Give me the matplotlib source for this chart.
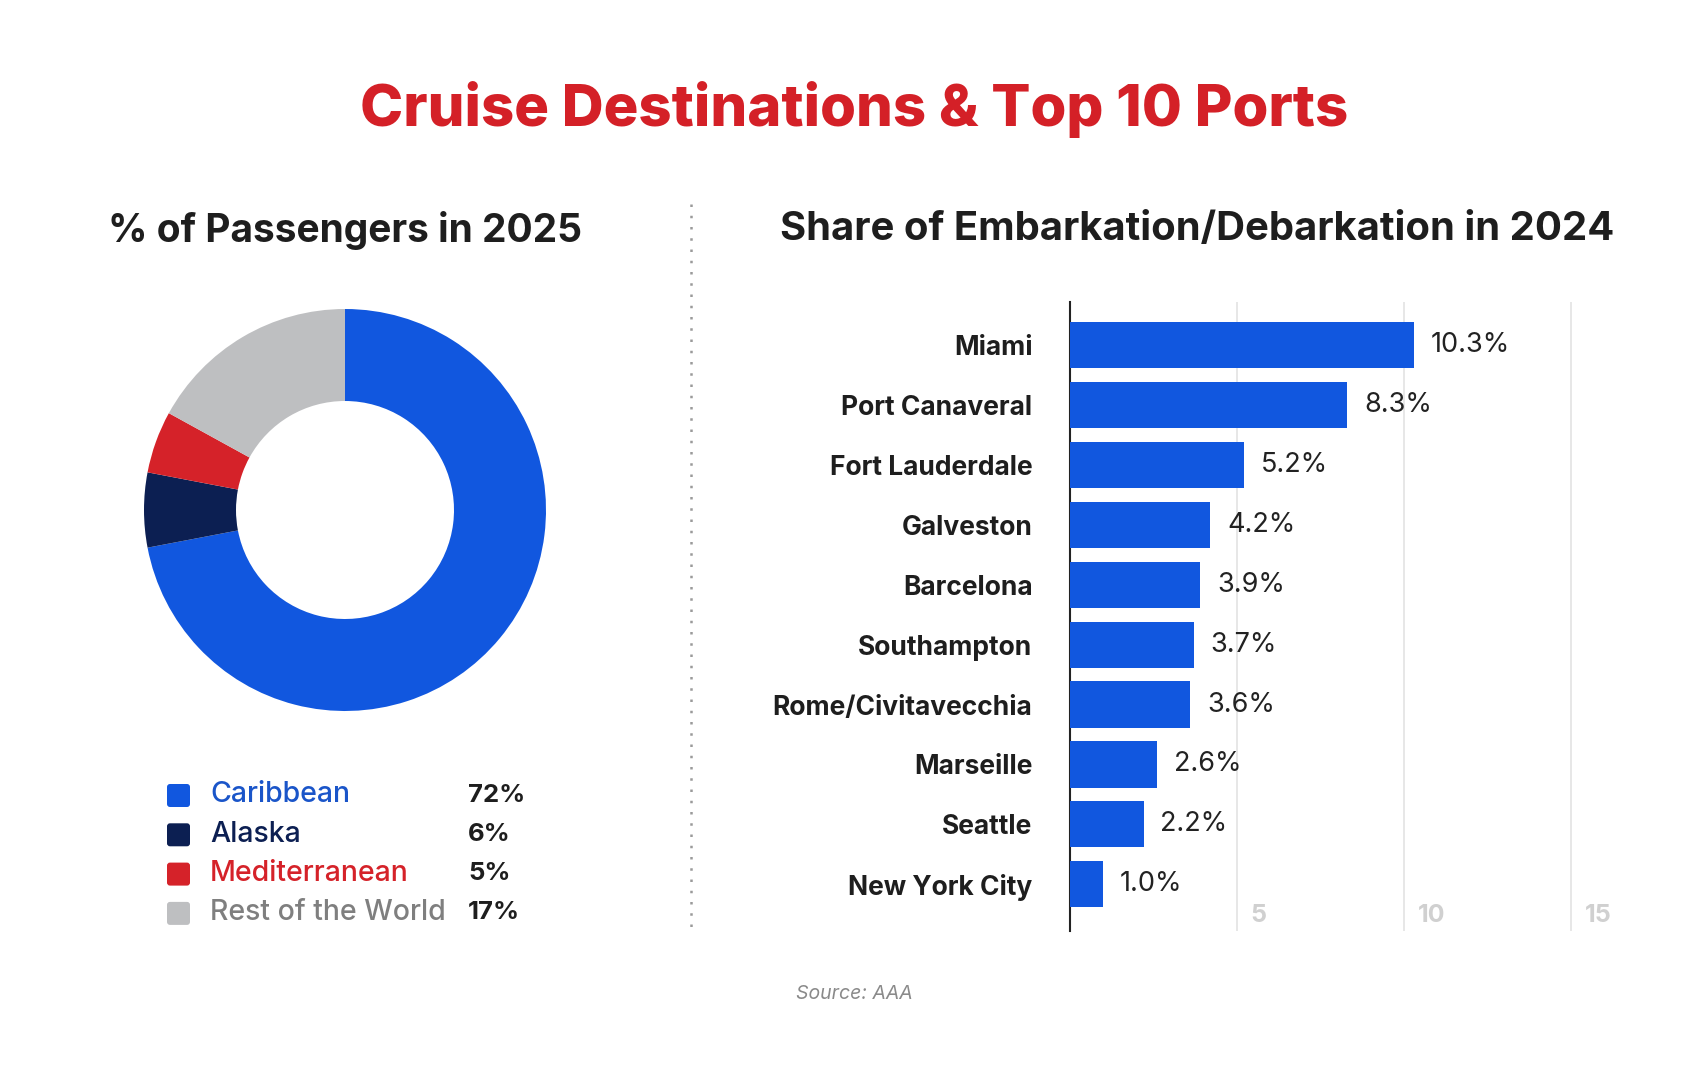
import numpy as np
import matplotlib.pyplot as plt
from matplotlib.patches import FancyBboxPatch

# donut data (% of passengers in 2025)
regions = ['Caribbean', 'Alaska', 'Mediterranean', 'Rest of the World']
region_share = [72, 6, 5, 17]
region_colors = ['#1157DF', '#0C1F52', '#D52229', '#BEBFC1']
region_text_colors = ['#1A55C9', '#0C1F52', '#D52229', '#7F7F7F']

# bar data (share of embarkation/debarkation in 2024)
ports = ['Miami', 'Port Canaveral', 'Fort Lauderdale', 'Galveston', 'Barcelona',
         'Southampton', 'Rome/Civitavecchia', 'Marseille', 'Seattle', 'New York City']
port_share = [10.3, 8.3, 5.2, 4.2, 3.9, 3.7, 3.6, 2.6, 2.2, 1.0]
grid_ticks = [5, 10, 15]

plt.rcParams['font.family'] = ['Inter', 'DejaVu Sans']

W, H = 1702, 1080
fig = plt.figure(figsize=(W / 100, H / 100), dpi=100)
fig.patch.set_facecolor('white')

# overlay in pixel coordinates for titles / legend / divider
ov = fig.add_axes([0, 0, 1, 1])
ov.set_xlim(0, W)
ov.set_ylim(H, 0)
ov.axis('off')

ov.text(854, 110, 'Cruise Destinations & Top 10 Ports', color='#D42027',
        fontsize=41.8, fontweight='heavy', ha='center', va='center')
ov.text(345, 230, '% of Passengers in 2025', color='#1E1E1E',
        fontsize=28, fontweight='bold', ha='center', va='center')
ov.text(1197, 230, 'Share of Embarkation/Debarkation in 2024', color='#1E1E1E',
        fontsize=28.8, fontweight='bold', ha='center', va='center')
ov.plot([691, 691], [204, 931], color='#9A9A9A', lw=1.8, ls=(0, (1, 3.5)))
ov.text(854, 994, 'Source: AAA', color='#8A8A8A', fontsize=14,
        style='italic', ha='center', va='center')

# legend
for i, (name, val, c, tc) in enumerate(zip(regions, region_share, region_colors, region_text_colors)):
    y = 795 + i * 39.3
    ov.add_patch(FancyBboxPatch((167, y - 11), 23, 23, boxstyle='round,pad=0,rounding_size=3',
                                fc=c, ec='none'))
    ov.text(210, y, name, color=tc, fontsize=20.5, fontweight='medium',
            ha='left', va='center')
    ov.text(468, y, f'{val}%', color='#1E1E1E', fontsize=18.5, fontweight='bold',
            ha='left', va='center')

# donut
half = 210
dax = fig.add_axes([(345 - half) / W, 1 - (510 + half) / H, 2 * half / W, 2 * half / H])
dax.pie(region_share, colors=region_colors, startangle=90, counterclock=False,
        radius=1, wedgeprops=dict(width=92 / 201, edgecolor='none'))
lim = half / 201
dax.set_xlim(-lim, lim)
dax.set_ylim(-lim, lim)
dax.set_aspect('equal')
dax.axis('off')

# horizontal bars
bax = fig.add_axes([1070 / W, 1 - 931 / H, 518 / W, (931 - 302) / H])
ypos = np.arange(len(ports))
bax.barh(ypos, port_share, height=0.77, color='#1157DF', zorder=3)
bax.set_xlim(0, 15.5)
bax.set_ylim(9.78, -0.72)
bax.set_xticks(grid_ticks)
bax.set_xticklabels([])
bax.tick_params(axis='both', length=0)
bax.grid(axis='x', color='#E3E3E3', lw=1.2, zorder=0)
bax.set_yticks(ypos)
bax.set_yticklabels(ports, fontsize=19, fontweight='bold', color='#1E1E1E')
bax.tick_params(axis='y', pad=27)
for s in ['top', 'right', 'bottom']:
    bax.spines[s].set_visible(False)
bax.spines['left'].set_color('#222222')
bax.spines['left'].set_linewidth(1.5)
bax.set_facecolor('none')

for y, v in zip(ypos, port_share):
    bax.text(v + 0.5, y, f'{v:.1f}%', fontsize=19.5, color='#222222',
             ha='left', va='center', fontweight='normal')
for t in grid_ticks:
    bax.text(t + 0.4, 9.52, str(t), fontsize=18, color='#D0D0D0', fontweight='bold',
             ha='left', va='center')

fig.savefig('out.png', dpi=100, facecolor='white')
